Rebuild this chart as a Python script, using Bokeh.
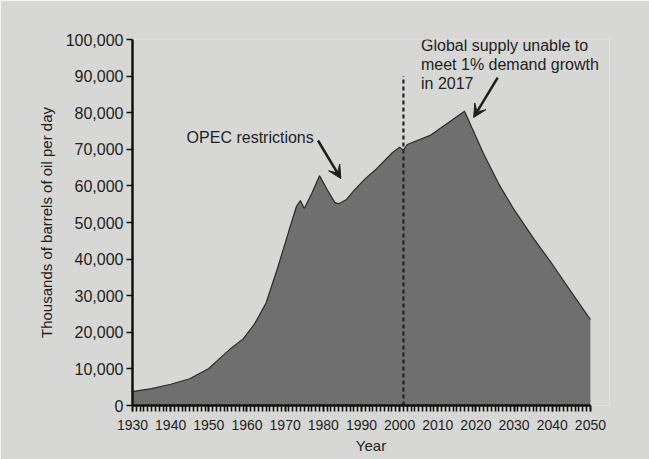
from bokeh.plotting import figure
from bokeh.models import Range1d, SingleIntervalTicker, NumeralTickFormatter, Arrow, VeeHead, Label
from bokeh.embed import file_html
from bokeh.resources import INLINE

# ---- data ----
years = [1930, 1935, 1940, 1945, 1950, 1953, 1956, 1959, 1962, 1965, 1968, 1971,
         1973, 1974, 1975, 1977, 1979, 1981, 1983, 1984, 1986, 1988, 1991, 1994,
         1998, 2000, 2001, 2002, 2008, 2017, 2022, 2026, 2030, 2035, 2040, 2045, 2050]
supply = [3800, 4600, 5800, 7300, 10100, 13000, 15800, 18200, 22300, 28000, 37500, 47800,
          54500, 56000, 53800, 58000, 62800, 59000, 55500, 55100, 56200, 58700, 62000, 64700,
          69000, 70600, 69800, 71300, 73800, 80400, 68800, 60500, 53500, 45800, 38600, 31000, 23500]

x_start, x_end = 1930, 2050
projection_year = 2001
projection_top = 90000

x_label = "Year"
y_label = "Thousands of barrels of oil per day"

opec_text = "OPEC restrictions"
opec_text_xy = (1977.5, 73200)
opec_arrow = (1978.6, 72400, 1984.6, 62000)

global_lines = ["Global supply unable to", "meet 1% demand growth", "in 2017"]
global_text_x = 2005.6
global_text_y = [98300, 93200, 87900]
global_arrow = (2025.7, 89600, 2019.4, 78700)

FONT = "Liberation Sans"
BG = "#d7d7d5"
INK = "#1e1e1e"

# the frame is a little wider than the axis so the right-hand note is not clipped
p = figure(width=649, height=459, output_backend="svg", toolbar_location=None,
           x_range=Range1d(x_start, x_end + 5), y_range=Range1d(0, 100000),
           min_border_left=132, min_border_right=40, min_border_top=39, min_border_bottom=54)
p.background_fill_color = BG
p.border_fill_color = BG
p.outline_line_color = None
p.grid.visible = False

# area
p.varea(x=years, y1=0, y2=supply, fill_color="#6f6f6f", fill_alpha=1.0)
p.line(x=years, y=supply, line_color="#2a2a2a", line_width=1.2)

# projection divider
p.line(x=[projection_year, projection_year], y=[0, projection_top],
       line_color="#222222", line_width=2.2, line_dash="4 3")

# annotations
p.add_layout(Label(x=opec_text_xy[0], y=opec_text_xy[1], text=opec_text,
                   text_font=FONT, text_font_size="16px", text_color=INK,
                   text_align="right", text_baseline="middle"))
for ty, line in zip(global_text_y, global_lines):
    p.add_layout(Label(x=global_text_x, y=ty, text=line,
                       text_font=FONT, text_font_size="16px", text_color=INK,
                       text_align="left", text_baseline="middle"))

for (xs, ys, xe, ye) in (opec_arrow, global_arrow):
    p.add_layout(Arrow(end=VeeHead(size=13, fill_color=INK, line_color=INK),
                       x_start=xs, y_start=ys, x_end=xe, y_end=ye,
                       line_color=INK, line_width=2.5))

# axes
xa = p.xaxis[0]
xa.ticker = SingleIntervalTicker(interval=10, num_minor_ticks=10)
xa.bounds = (x_start, x_end)
xa.axis_label = x_label
ya = p.yaxis[0]
ya.ticker = SingleIntervalTicker(interval=10000, num_minor_ticks=0)
ya.formatter = NumeralTickFormatter(format="0,0")
ya.axis_label = y_label

for ax in (xa, ya):
    ax.axis_line_color = "#111111"
    ax.axis_line_width = 2.5
    ax.major_tick_line_color = "#111111"
    ax.major_tick_line_width = 1.6
    ax.major_tick_in = 0
    ax.major_tick_out = 6
    ax.minor_tick_line_color = "#111111"
    ax.minor_tick_line_width = 1.6
    ax.minor_tick_in = 0
    ax.minor_tick_out = 6
    ax.major_label_text_font = FONT
    ax.major_label_text_color = INK
    ax.axis_label_text_font = FONT
    ax.axis_label_text_font_style = "normal"
    ax.axis_label_text_color = INK
    ax.axis_label_text_font_size = "15px"

xa.major_label_text_font_size = "14px"
xa.major_label_standoff = 8
xa.axis_label_standoff = 4
ya.major_label_text_font_size = "16px"
ya.major_label_standoff = 3
ya.axis_label_standoff = 8

open("out.html", "w").write(file_html(p, INLINE))
